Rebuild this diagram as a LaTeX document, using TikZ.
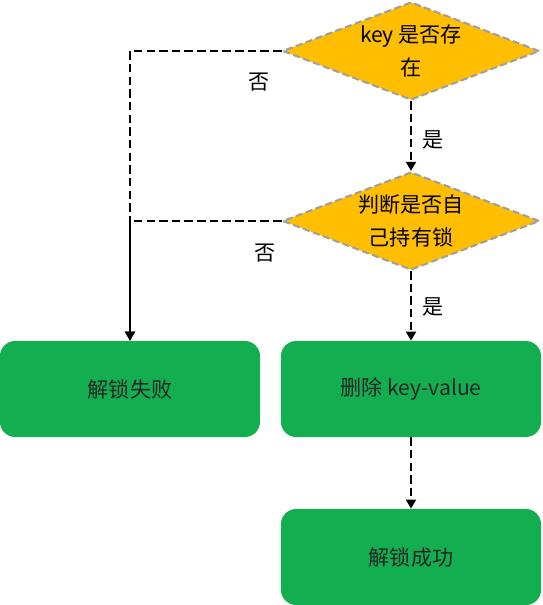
\documentclass[tikz,border=0pt]{standalone}
\usepackage{fontspec}
\setmainfont{Noto Sans CJK SC}
\usetikzlibrary{shapes.geometric,arrows.meta}
\definecolor{boxgreen}{RGB}{18,174,80}
\definecolor{decorange}{RGB}{255,190,0}
\definecolor{decborder}{RGB}{160,160,160}
\begin{document}
\begin{tikzpicture}[x=0.025cm, y=-0.025cm,
    decision/.style={diamond, fill=decorange, draw=decborder, line width=1.5pt,
        dash pattern=on 5pt off 2.5pt, shape aspect=2.6, inner sep=0pt,
        minimum width=6.42cm, minimum height=2.45cm, align=center,
        font=\fontsize{15}{23}\selectfont},
    action/.style={rectangle, rounded corners=0.38cm, fill=boxgreen,
        minimum width=6.5cm, minimum height=2.4cm, text=black!85,
        font=\fontsize{15}{18}\selectfont},
    link/.style={line width=2.1pt, dash pattern=on 6pt off 3pt,
        -{Triangle[width=7pt,length=6.5pt]}},
    lbl/.style={font=\fontsize{15}{18}\selectfont}]
    \useasboundingbox (0,0) rectangle (543,605);

    \node[decision] (dkey) at (411,51) {key 是否存\\在};
    \node[decision] (downer) at (411,221) {判断是否自\\己持有锁};

    \node[action] (failbox) at (130,389) {解锁失败};
    \node[action] (delbox) at (411,389) {删除 key-value};
    \node[action] (okbox) at (411,557) {解锁成功};

    \draw[link] (dkey.west) -| (failbox.north);
    \draw[link] (downer.west) -| (failbox.north);
    \draw[link] (dkey.south) -- (downer.north);
    \draw[link] (downer.south) -- (delbox.north);
    \draw[link] (delbox.south) -- (okbox.north);

    \node[lbl] (no1) at (259,82) {否};
    \node[lbl] (no2) at (265,253) {否};
    \node[lbl] (yes1) at (433,140) {是};
    \node[lbl] (yes2) at (433,307) {是};
\end{tikzpicture}
\end{document}
